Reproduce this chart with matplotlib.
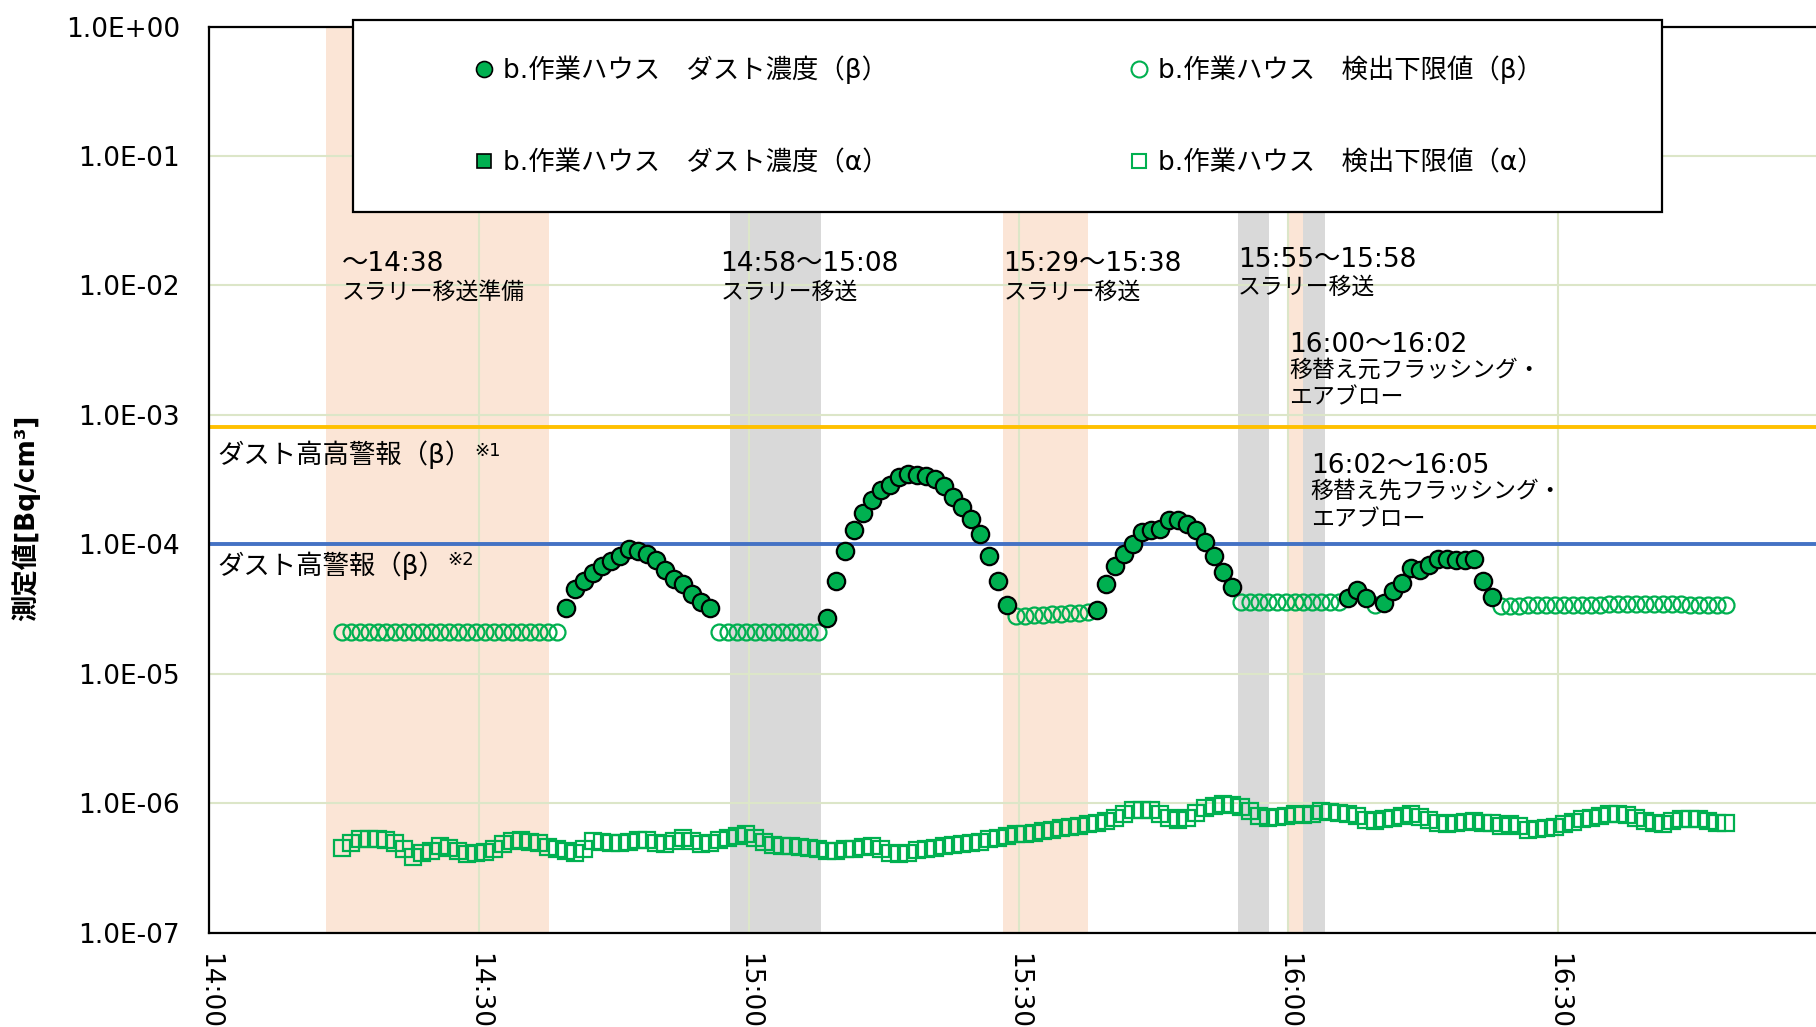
import numpy as np
import matplotlib
matplotlib.use("Agg")
import matplotlib.pyplot as plt
from matplotlib.lines import Line2D
from matplotlib.patches import Rectangle

plt.rcParams['font.family'] = ['DejaVu Sans', 'Noto Sans CJK JP']

# one reading per minute, minutes after 14:00
t_first = 14.7
n_samples = 155
minutes = t_first + np.arange(n_samples)

# beta dust concentration (filled circles), segments start at sample index
beta_conc_a = [3.2e-5, 4.5e-5, 5.2e-5, 6.0e-5, 6.8e-5, 7.4e-5, 8.1e-5, 9.2e-5, 8.8e-5,
               8.4e-5, 7.6e-5, 6.3e-5, 5.4e-5, 4.9e-5, 4.1e-5, 3.6e-5, 3.2e-5]
beta_conc_b = [2.7e-5, 5.2e-5, 8.9e-5, 1.28e-4, 1.74e-4, 2.21e-4, 2.61e-4, 2.88e-4, 3.31e-4,
               3.51e-4, 3.44e-4, 3.39e-4, 3.19e-4, 2.80e-4, 2.32e-4, 1.94e-4, 1.57e-4,
               1.19e-4, 8.1e-5, 5.2e-5, 3.4e-5]
beta_conc_c = [3.1e-5, 4.9e-5, 6.8e-5, 8.4e-5, 1.01e-4, 1.24e-4, 1.28e-4, 1.31e-4, 1.53e-4,
               1.53e-4, 1.44e-4, 1.28e-4, 1.05e-4, 8.1e-5, 6.1e-5, 4.7e-5]
beta_conc_d = [3.85e-5, 4.46e-5, 3.85e-5, np.nan, 3.52e-5, 4.38e-5, 5.02e-5, 6.56e-5, 6.29e-5,
               6.96e-5, 7.7e-5, 7.7e-5, 7.6e-5, 7.6e-5, 7.74e-5, 5.24e-5, 3.89e-5]
beta_conc_start = [25, 54, 84, 112]

# beta detection limit (open circles) where dust was not detected
beta_dl_a = [2.1e-5, 2.1e-5, 2.1e-5, 2.1e-5, 2.1e-5, 2.1e-5, 2.1e-5, 2.1e-5, 2.1e-5,
             2.1e-5, 2.1e-5, 2.1e-5, 2.1e-5, 2.1e-5, 2.1e-5, 2.1e-5, 2.1e-5, 2.1e-5,
             2.1e-5, 2.1e-5, 2.1e-5, 2.1e-5, 2.1e-5, 2.1e-5, 2.1e-5]
beta_dl_b = [2.1e-5, 2.1e-5, 2.1e-5, 2.1e-5, 2.1e-5, 2.1e-5, 2.1e-5, 2.1e-5, 2.1e-5,
             2.1e-5, 2.1e-5, 2.1e-5]
beta_dl_c = [2.8e-5, 2.8e-5, 2.85e-5, 2.85e-5, 2.9e-5, 2.9e-5, 2.95e-5, 2.95e-5, 3.0e-5]
beta_dl_d = [3.6e-5, 3.6e-5, 3.6e-5, 3.6e-5, 3.6e-5, 3.6e-5, 3.6e-5, 3.6e-5, 3.6e-5,
             3.6e-5, 3.6e-5, 3.6e-5]
beta_dl_e = [3.4e-5]
beta_dl_f = [3.35e-5, 3.35e-5, 3.35e-5, 3.4e-5, 3.4e-5, 3.4e-5, 3.4e-5, 3.4e-5, 3.4e-5,
             3.4e-5, 3.4e-5, 3.4e-5, 3.45e-5, 3.45e-5, 3.45e-5, 3.45e-5, 3.45e-5, 3.45e-5,
             3.45e-5, 3.45e-5, 3.45e-5, 3.4e-5, 3.4e-5, 3.4e-5, 3.4e-5, 3.4e-5]
beta_dl_start = [0, 42, 75, 100, 115, 129]

# alpha detection limit (open squares), x1e-7
alpha_dl = np.array([
    4.51, 4.93, 5.24, 5.30, 5.30, 5.17, 4.93, 4.38, 3.86, 4.13,
    4.25, 4.65, 4.51, 4.25, 4.01, 4.08, 4.18, 4.38, 4.79, 5.08,
    5.17, 4.99, 4.88, 4.59, 4.38, 4.25, 4.13, 4.38, 5.08, 4.99,
    4.93, 4.88, 4.99, 5.17, 5.17, 4.93, 4.79, 5.08, 5.39, 5.08,
    4.79, 4.93, 5.17, 5.39, 5.56, 5.72, 5.39, 4.99, 4.71, 4.65,
    4.65, 4.59, 4.51, 4.38, 4.25, 4.25, 4.38, 4.43, 4.59, 4.65,
    4.38, 4.13, 4.01, 4.08, 4.33, 4.43, 4.51, 4.65, 4.73, 4.85,
    4.93, 4.99, 5.24, 5.39, 5.56, 5.72, 5.82, 5.89, 6.07, 6.25,
    6.40, 6.56, 6.71, 6.84, 6.96, 7.25, 7.69, 8.31, 8.77, 8.92,
    8.82, 8.31, 7.69, 7.38, 7.69, 8.41, 9.19, 9.58, 9.87, 9.75,
    9.36, 8.66, 7.93, 7.69, 7.79, 7.93, 8.17, 8.07, 8.31, 8.66,
    8.51, 8.41, 8.31, 7.93, 7.38, 7.25, 7.56, 7.69, 8.02, 8.17,
    7.83, 7.38, 7.04, 6.84, 6.96, 7.13, 7.25, 7.04, 6.96, 6.71,
    6.84, 6.64, 6.25, 6.33, 6.44, 6.56, 6.84, 7.13, 7.47, 7.69,
    8.02, 8.17, 8.17, 8.07, 7.69, 7.25, 6.96, 6.84, 7.25, 7.47,
    7.56, 7.47, 7.25, 6.96, 6.96]) * 1e-7

# alarm levels
alarm_hh = 8.0e-4
alarm_h = 1.0e-4

# work periods (minutes after 14:00)
span_start = [13.0, 57.9, 88.3, 114.4, 120.1, 121.6]
span_end = [37.8, 68.0, 97.7, 117.9, 121.6, 124.1]
span_kind = ['peach', 'gray', 'peach', 'gray', 'peach', 'gray']

note_time = ['～14:38', '14:58～15:08', '15:29～15:38', '15:55～15:58',
             '16:00～16:02', '16:02～16:05']
note_desc = [['スラリー移送準備'], ['スラリー移送'], ['スラリー移送'], ['スラリー移送'],
             ['移替え元フラッシング・', 'エアブロー'], ['移替え先フラッシング・', 'エアブロー']]

xtick_min = [0, 30, 60, 90, 120, 150]
xtick_lab = ['14:00', '14:30', '15:00', '15:30', '16:00', '16:30']
ytick_val = [1e0, 1e-1, 1e-2, 1e-3, 1e-4, 1e-5, 1e-6, 1e-7]
ytick_lab = ['1.0E+00', '1.0E-01', '1.0E-02', '1.0E-03', '1.0E-04', '1.0E-05', '1.0E-06', '1.0E-07']

legend_labels = ['b.作業ハウス　ダスト濃度（β）', 'b.作業ハウス　ダスト濃度（α）',
                 'b.作業ハウス　検出下限値（β）', 'b.作業ハウス　検出下限値（α）']


def fill(starts, parts):
    out = np.full(n_samples, np.nan)
    for s, p in zip(starts, parts):
        out[s:s + len(p)] = p
    return out


beta_conc = fill(beta_conc_start, [beta_conc_a, beta_conc_b, beta_conc_c, beta_conc_d])
beta_dl = fill(beta_dl_start, [beta_dl_a, beta_dl_b, beta_dl_c, beta_dl_d, beta_dl_e, beta_dl_f])

green = '#00B050'
span_col = {'peach': '#FBE5D6', 'gray': '#D9D9D9'}

fig = plt.figure(figsize=(18.16, 10.27), dpi=100)
ax = fig.add_axes([0.1153, 0.0920, 0.8911, 0.8821])

for a, b, k in zip(span_start, span_end, span_kind):
    ax.axvspan(a, b, color=span_col[k], lw=0, zorder=0.2)

ax.axhline(alarm_hh, color='#FFC000', lw=2.8, zorder=2)
ax.axhline(alarm_h, color='#4472C4', lw=2.8, zorder=2)

ax.plot(minutes, alpha_dl, ls='none', marker='s', ms=11.5, mfc='none', mec=green, mew=1.6, zorder=3)
ax.plot(minutes, beta_dl, ls='none', marker='o', ms=11.5, mfc='none', mec=green, mew=1.6, zorder=3)
ax.plot(minutes, beta_conc, ls='none', marker='o', ms=12.5, mfc=green, mec='black', mew=1.6, zorder=4)

ax.set_yscale('log')
ax.set_ylim(1e-7, 1e0)
ax.set_xlim(0, 180)
ax.set_yticks(ytick_val)
ax.set_yticklabels(ytick_lab)
ax.minorticks_off()
ax.set_xticks(xtick_min)
ax.set_xticklabels(xtick_lab, rotation=-90, va='top', ha='center')
ax.tick_params(axis='y', length=0, pad=21, labelsize=19)
ax.tick_params(axis='x', length=0, pad=15, labelsize=19)
ax.grid(True, color='#DCE6C8', lw=1.5)
ax.set_axisbelow(True)
for s in ax.spines.values():
    s.set_linewidth(1.6)
    s.set_color('black')

fig.text(25.5 / 1816, 1 - 518 / 1027, '測定値[Bq/cm³]', fontsize=19, fontweight='bold',
         rotation=90, ha='center', va='center')

# annotations for work periods: left x (min), centre of each line
note_x = [14.7, 56.85, 88.3, 114.4, 120.1, 122.5]
note_time_y = [1.47e-2, 1.47e-2, 1.47e-2, 1.56e-2, 3.47e-3, 4.0e-4]
note_desc_y = [[8.9e-3], [8.9e-3], [8.9e-3], [9.75e-3], [2.23e-3, 1.35e-3], [2.59e-4, 1.55e-4]]
for x, tt, ty, dd, dy in zip(note_x, note_time, note_time_y, note_desc, note_desc_y):
    ax.text(x, ty, tt, fontsize=19, ha='left', va='center', zorder=5)
    for line, y in zip(dd, dy):
        ax.text(x, y, line, fontsize=16.5, ha='left', va='center', zorder=5)

ax.text(0.93, 4.92e-4, 'ダスト高高警報（β）', fontsize=19, ha='left', va='center', zorder=5)
ax.text(29.5, 5.3e-4, '※1', fontsize=13, ha='left', va='center', zorder=5)
ax.text(0.93, 6.84e-5, 'ダスト高警報（β）', fontsize=19, ha='left', va='center', zorder=5)
ax.text(26.5, 7.5e-5, '※2', fontsize=13, ha='left', va='center', zorder=5)

# legend box
x0, x1, y0, y1 = 353 / 1816, 1662 / 1816, 1 - 212 / 1027, 1 - 19.7 / 1027
fig.add_artist(Rectangle((x0, y0), x1 - x0, y1 - y0, transform=fig.transFigure,
                         facecolor='white', edgecolor='black', lw=1.6, zorder=6))
handles = [
    Line2D([], [], ls='none', marker='o', ms=11.5, mfc=green, mec='black', mew=1.2),
    Line2D([], [], ls='none', marker='s', ms=10.5, mfc=green, mec='black', mew=1.2),
    Line2D([], [], ls='none', marker='o', ms=11.5, mfc='none', mec=green, mew=1.5),
    Line2D([], [], ls='none', marker='s', ms=10.5, mfc='none', mec=green, mew=1.5),
]
leg = fig.legend(handles, legend_labels, ncol=2, loc='center',
                 bbox_to_anchor=((x0 + x1) / 2 + 0.0005, (y0 + y1) / 2),
                 frameon=False, fontsize=19, handlelength=0.8, handletextpad=0.3,
                 columnspacing=9.1, labelspacing=2.5)
leg.set_zorder(7)

fig.savefig('out.png', dpi=100)
